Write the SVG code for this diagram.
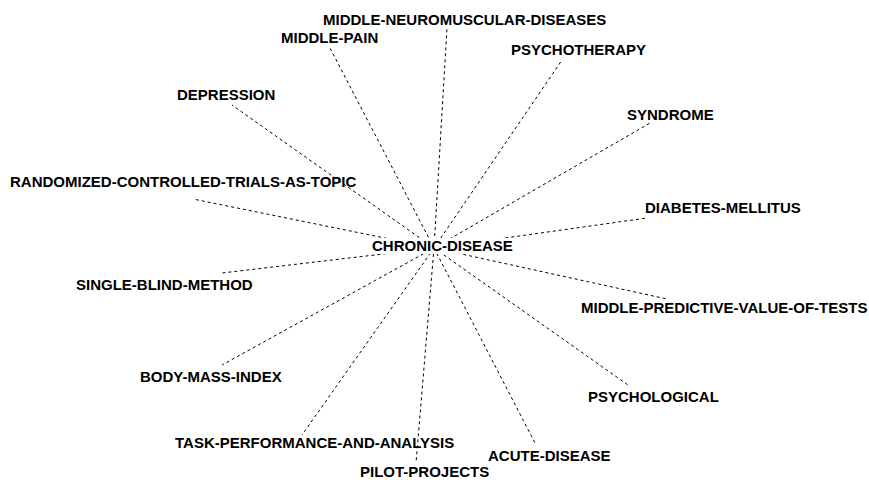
<svg xmlns="http://www.w3.org/2000/svg" width="869" height="480" viewBox="0 0 869 480">
  <style>
    .lbl { font-family: "Liberation Sans", Arial, sans-serif; font-weight: bold; font-size: 15px; fill: #000; }
    .edge { stroke: #000; stroke-width: 1; stroke-dasharray: 3 3; fill: none; }
  </style>
  <rect width="869" height="480" fill="#fff"/>

  <!-- spokes from the hub term to each related term -->
  <g id="connectors">
    <line class="edge" x1="434" y1="248" x2="447" y2="28"/>
    <line class="edge" x1="434" y1="248" x2="330" y2="48"/>
    <line class="edge" x1="434" y1="248" x2="562" y2="60"/>
    <line class="edge" x1="434" y1="248" x2="232" y2="105"/>
    <line class="edge" x1="434" y1="248" x2="650" y2="123"/>
    <line class="edge" x1="434" y1="248" x2="193" y2="199"/>
    <line class="edge" x1="434" y1="248" x2="647" y2="218"/>
    <line class="edge" x1="434" y1="248" x2="222" y2="273"/>
    <line class="edge" x1="434" y1="248" x2="667" y2="299"/>
    <line class="edge" x1="434" y1="248" x2="222" y2="365"/>
    <line class="edge" x1="434" y1="248" x2="628" y2="385"/>
    <line class="edge" x1="434" y1="248" x2="302" y2="435"/>
    <line class="edge" x1="434" y1="248" x2="535" y2="443"/>
    <line class="edge" x1="434" y1="248" x2="416" y2="463"/>
  </g>

  <g id="chronic-disease">
    <rect x="369" y="238" width="146" height="16" fill="#fff"/>
    <text class="lbl" x="372" y="251">CHRONIC-DISEASE</text>
  </g>
  <g id="middle-neuromuscular-diseases"><text class="lbl" x="323" y="25">MIDDLE-NEUROMUSCULAR-DISEASES</text></g>
  <g id="middle-pain"><text class="lbl" x="281" y="43">MIDDLE-PAIN</text></g>
  <g id="psychotherapy"><text class="lbl" x="511" y="55">PSYCHOTHERAPY</text></g>
  <g id="depression"><text class="lbl" x="177" y="100">DEPRESSION</text></g>
  <g id="syndrome"><text class="lbl" x="627" y="120">SYNDROME</text></g>
  <g id="randomized-controlled-trials-as-topic"><text class="lbl" x="10" y="187">RANDOMIZED-CONTROLLED-TRIALS-AS-TOPIC</text></g>
  <g id="diabetes-mellitus"><text class="lbl" x="645" y="213">DIABETES-MELLITUS</text></g>
  <g id="single-blind-method"><text class="lbl" x="76" y="290">SINGLE-BLIND-METHOD</text></g>
  <g id="middle-predictive-value-of-tests"><text class="lbl" x="581" y="313">MIDDLE-PREDICTIVE-VALUE-OF-TESTS</text></g>
  <g id="body-mass-index"><text class="lbl" x="140" y="382">BODY-MASS-INDEX</text></g>
  <g id="psychological"><text class="lbl" x="588" y="402">PSYCHOLOGICAL</text></g>
  <g id="task-performance-and-analysis"><text class="lbl" x="175" y="448">TASK-PERFORMANCE-AND-ANALYSIS</text></g>
  <g id="acute-disease"><text class="lbl" x="488" y="461">ACUTE-DISEASE</text></g>
  <g id="pilot-projects"><text class="lbl" x="360" y="477">PILOT-PROJECTS</text></g>
</svg>
